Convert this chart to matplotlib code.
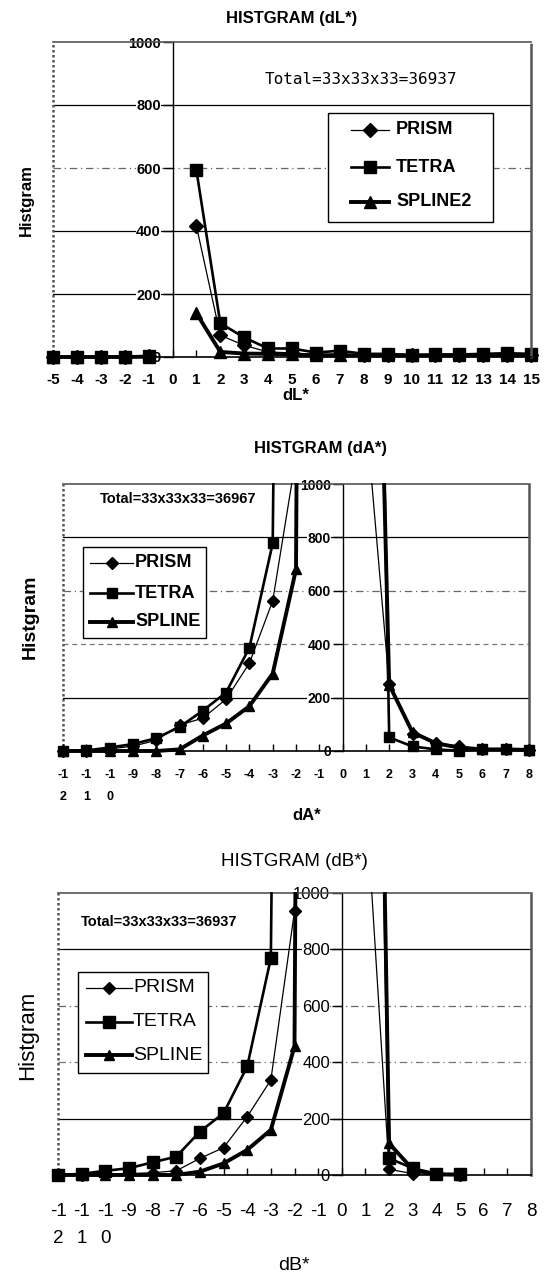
import numpy as np
import matplotlib
matplotlib.use("Agg")
import matplotlib.pyplot as plt
from matplotlib.patches import Rectangle
from matplotlib.lines import Line2D

nan = np.nan

# ---------------- data ----------------
cats_L = list(range(-5, 16))
labels_L = [str(c) for c in cats_L]
prism_L = [0, 0, 0, 1, 2, nan, 416, 69, 37, 16, 13, 8, 10, 6, 6, 5, 5, 5, 5, 5, 5]
tetra_L = [0, 0, 0, 1, 3, nan, 593, 107, 62, 27, 27, 14, 20, 10, 10, 6, 8, 8, 10, 12, 10]
spline_L = [0, 0, 0, 0, 1, nan, 139, 16, 11, 10, 8, 5, 5, 5, 5, 5, 5, 5, 5, 5, 5]

cats_A = list(range(-12, 9))
labels_A = ["-1\n2", "-1\n1", "-1\n0"] + [str(c) for c in range(-9, 9)]
prism_A = [0, 0, 8, 18, 40, 97, 123, 194, 329, 562, 1100, 6000, nan, 1260, 250, 64, 29, 19, 6, 6, 4]
tetra_A = [0, 2, 13, 26, 48, 90, 151, 219, 387, 778, 9000, 20000, nan, 4800, 51, 17, 6, 1, 6, 6, 4]
spline_A = [0, 0, 0, 0, 0, 6, 58, 103, 168, 290, 680, 15000, nan, 3700, 248, 70, 29, 13, 6, 6, 4]

cats_B = list(range(-12, 9))
labels_B = ["-1\n2", "-1\n1", "-1\n0"] + [str(c) for c in range(-9, 9)]
prism_B = [0, 0, 3, 5, 8, 15, 59, 97, 207, 337, 935, 15000, nan, 1360, 20, 5, 2, 1, nan, nan, nan]
tetra_B = [0, 4, 15, 24, 45, 65, 154, 219, 385, 769, 9000, 20000, nan, 4800, 59, 24, 4, 3, nan, nan, nan]
spline_B = [0, 0, 0, 0, 0, 0, 12, 41, 89, 160, 456, 15000, nan, 5000, 112, 20, 2, 1, nan, nan, nan]

yticks = [0, 200, 400, 600, 800, 1000]

# ---------------- layout helpers ----------------
W, H = 548, 1274
fig = plt.figure(figsize=(W / 100, H / 100), dpi=100)
FONT = "Liberation Sans"


def fx(px):
    return px / W


def fy(py):
    return 1 - py / H


def add_ax(l, t, r, b):
    return fig.add_axes([fx(l), fy(b), (r - l) / W, (b - t) / H])


STYLES = {
    "PRISM": dict(marker="D", lw=0.9, ms_scale=0.8),
    "TETRA": dict(marker="s", lw=1.9, ms_scale=1.0),
    "SPLINE": dict(marker="^", lw=2.8, ms_scale=0.95),
}


def panel(ax, cats, series, labels, grid_styles, weight, xfs, yfs, xpad,
          linesp, ms, zline):
    ax.set_xlim(cats[0], cats[-1])
    ax.set_ylim(0, 1000)
    # gridlines
    for yv, (ls, col, lw) in grid_styles.items():
        ax.axhline(yv, color=col, ls=ls, lw=lw, zorder=0.5)
    # series
    for name, vals in series:
        key = "SPLINE" if name.startswith("SPLINE") else name
        st = STYLES[key]
        ln, = ax.plot(cats, vals, color="black", lw=st["lw"], marker=st["marker"],
                      ms=ms * st["ms_scale"], mfc="black", mec="black", zorder=zline)
        clip = Rectangle((-0.04, -0.1), 1.08, 1.103, transform=ax.transAxes)
        ln.set_clip_path(clip)
    # spines
    ax.spines["left"].set_position(("data", 0))
    ax.spines["left"].set_color("black")
    ax.spines["left"].set_linewidth(1.0)
    ax.spines["bottom"].set_color("black")
    ax.spines["bottom"].set_linewidth(1.2)
    for s in ("top", "right"):
        ax.spines[s].set_linestyle((0, (1, 1)))
        ax.spines[s].set_color("#555555")
        ax.spines[s].set_linewidth(1.2)
    ax.spines["right"].set_linewidth(1.8)
    ax.add_line(Line2D([0, 0], [0, 1], transform=ax.transAxes, color="#555555",
                       lw=1.8, ls=(0, (1, 1)), clip_on=False, zorder=1))
    # ticks
    ax.set_yticks(yticks)
    ax.set_yticklabels([str(v) for v in yticks], fontsize=yfs, fontweight=weight,
                       family=FONT)
    for lab in ax.get_yticklabels():
        lab.set_bbox(dict(facecolor="white", edgecolor="none", pad=0.3))
    ax.tick_params(axis="y", direction="out", length=7, width=1, pad=1.5)
    ax.set_xticks(cats)
    ax.set_xticklabels(labels, fontsize=xfs, fontweight=weight, family=FONT,
                       linespacing=linesp)
    ax.tick_params(axis="x", direction="in", length=5, width=1, pad=xpad)
    ax.set_facecolor("white")


def legend(box, rows, hx, tx, names, fs, weight, ms):
    l, t, r, b = box
    fig.add_artist(Rectangle((fx(l), fy(b)), (r - l) / W, (b - t) / H,
                             transform=fig.transFigure, facecolor="white",
                             edgecolor="black", lw=1.0, zorder=5))
    for name, y in zip(names, rows):
        key = "SPLINE" if name.startswith("SPLINE") else name
        st = STYLES[key]
        fig.add_artist(Line2D([fx(hx[0]), fx((hx[0] + hx[1]) / 2), fx(hx[1])],
                              [fy(y)] * 3, transform=fig.transFigure, color="black",
                              lw=st["lw"], marker=st["marker"], markevery=[1],
                              ms=ms * st["ms_scale"], zorder=6))
        fig.text(fx(tx), fy(y), name, va="center", ha="left", fontsize=fs,
                 fontweight=weight, family=FONT, zorder=7)


# ---------------- panel 1 : dL* ----------------
ax1 = add_ax(53, 42, 531, 357)
panel(ax1, cats_L,
      [("PRISM", prism_L), ("TETRA", tetra_L), ("SPLINE2", spline_L)],
      labels_L,
      {200: ("-", "black", 0.9), 400: ("-", "black", 0.9),
       600: ((0, (6, 3, 1, 3)), "#666666", 0.9), 800: ("-", "black", 0.9)},
      "bold", 11, 10.5, 11.5, 1.2, 8.5, 2)
fig.text(fx(292), fy(18), "HISTGRAM (dL*)", ha="center", va="center", fontsize=12,
         fontweight="bold", family=FONT)
fig.text(fx(26), fy(200), "Histgram", rotation=90, ha="center", va="center",
         fontsize=12, fontweight="bold", family=FONT)
fig.text(fx(296), fy(395), "dL*", ha="center", va="center", fontsize=12,
         fontweight="bold", family=FONT)
fig.text(fx(361), fy(79), "Total=33x33x33=36937", ha="center", va="center",
         fontsize=11.5, family="DejaVu Sans Mono")
legend((328, 113, 493, 222), [130, 167, 202], (351, 389), 396,
       ["PRISM", "TETRA", "SPLINE2"], 13, "bold", 8.5)

# ---------------- panel 2 : dA* ----------------
ax2 = add_ax(63, 484, 529, 751)
panel(ax2, cats_A,
      [("PRISM", prism_A), ("TETRA", tetra_A), ("SPLINE", spline_A)],
      labels_A,
      {200: ("-", "black", 0.9), 400: ((0, (4, 3)), "#777777", 0.9),
       600: ((0, (6, 3, 1, 3)), "#666666", 0.9), 800: ("-", "black", 0.9)},
      "bold", 9, 10, 13.0, 2.1, 7.5, 3)
fig.text(fx(320), fy(449), "HISTGRAM (dA*)", ha="center", va="center", fontsize=12,
         fontweight="bold", family=FONT)
fig.text(fx(30), fy(617), "Histgram", rotation=90, ha="center", va="center",
         fontsize=14, fontweight="bold", family=FONT)
fig.text(fx(307), fy(815), "dA*", ha="center", va="center", fontsize=12,
         fontweight="bold", family=FONT)
fig.text(fx(100), fy(499), "Total=33x33x33=36967", ha="left", va="center",
         fontsize=10.5, fontweight="bold", family=FONT)
legend((83, 547, 206, 638), [563, 593, 622], (90, 133), 135,
       ["PRISM", "TETRA", "SPLINE"], 13, "bold", 7.5)

# ---------------- panel 3 : dB* ----------------
ax3 = add_ax(58, 893, 531, 1175)
panel(ax3, cats_B,
      [("PRISM", prism_B), ("TETRA", tetra_B), ("SPLINE", spline_B)],
      labels_B,
      {200: ("-", "black", 0.9), 400: ((0, (6, 3, 1, 3)), "#777777", 0.9),
       600: ((0, (6, 3, 1, 3)), "#666666", 0.9), 800: ("-", "black", 0.9)},
      "normal", 13.5, 12, 20.0, 1.75, 8, 3)
fig.text(fx(294), fy(862), "HISTGRAM (dB*)", ha="center", va="center", fontsize=13.5,
         family=FONT)
fig.text(fx(28), fy(1035), "Histgram", rotation=90, ha="center", va="center",
         fontsize=16, family=FONT)
fig.text(fx(294), fy(1265), "dB*", ha="center", va="center", fontsize=14,
         family=FONT)
fig.text(fx(81), fy(922), "Total=33x33x33=36937", ha="left", va="center",
         fontsize=10.5, fontweight="bold", family=FONT)
legend((78, 972, 208, 1073), [988, 1022, 1055], (86, 132), 133,
       ["PRISM", "TETRA", "SPLINE"], 14, "normal", 8)

fig.savefig("out.png", dpi=100, facecolor="white")
